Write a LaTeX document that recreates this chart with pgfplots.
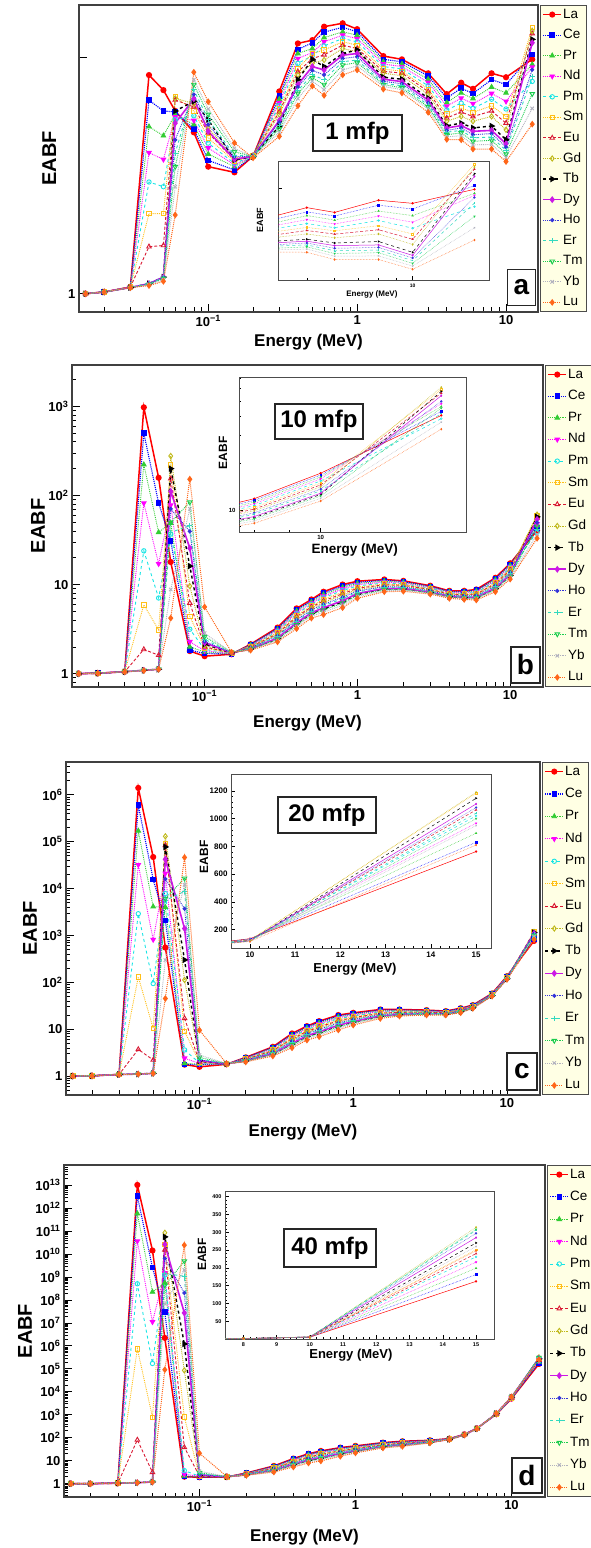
\documentclass[border=0pt]{standalone}
\usepackage{fontspec}
\setmainfont{Liberation Sans}
\usepackage{pgfplots}
\usepackage{pgfplotstable}
\pgfplotsset{compat=1.18}

\definecolor{cLa}{rgb}{1,0,0}
\definecolor{cCe}{rgb}{0,0,1}
\definecolor{cPr}{rgb}{0.2,0.8,0.2}
\definecolor{cNd}{rgb}{1,0,1}
\definecolor{cPm}{rgb}{0.1,0.9,0.9}
\definecolor{cSm}{rgb}{1,0.75,0.1}
\definecolor{cEu}{rgb}{0.85,0.1,0.2}
\definecolor{cGd}{rgb}{0.75,0.72,0.1}
\definecolor{cTb}{rgb}{0,0,0}
\definecolor{cDy}{rgb}{0.8,0.1,0.9}
\definecolor{cHo}{rgb}{0.2,0.2,0.85}
\definecolor{cEr}{rgb}{0.2,0.85,0.75}
\definecolor{cTm}{rgb}{0.1,0.8,0.3}
\definecolor{cYb}{rgb}{0.7,0.7,0.75}
\definecolor{cLu}{rgb}{1,0.4,0.1}
\definecolor{legfill}{RGB}{255,255,228}

\newcommand\fs[1]{\fontsize{#1}{#1}\selectfont}

% 1 mfp
\pgfplotstableread{
E La Ce Pr Nd Pm Sm Eu Gd Tb Dy Ho Er Tm Yb Lu
0.015 1.000 1.000 1.000 1.000 1.000 1.000 1.000 1.000 1.000 1.000 1.000 1.000 1.000 1.000 1.000
0.02 1.005 1.005 1.005 1.005 1.005 1.005 1.005 1.005 1.005 1.005 1.005 1.005 1.005 1.005 1.005
0.03 1.020 1.020 1.020 1.020 1.020 1.020 1.020 1.018 1.018 1.018 1.018 1.018 1.018 1.018 1.018
0.04 1.900 1.765 1.633 1.513 1.388 1.265 1.148 1.030 1.030 1.030 1.030 1.030 1.028 1.026 1.024
0.05 1.818 1.710 1.590 1.483 1.369 1.265 1.152 1.050 1.050 1.050 1.050 1.048 1.046 1.042 1.037
0.06 1.710 1.705 1.693 1.680 1.667 1.784 1.766 1.775 1.710 1.650 1.571 1.511 1.452 1.369 1.260
0.08 1.606 1.622 1.643 1.663 1.686 1.710 1.730 1.747 1.759 1.772 1.795 1.820 1.848 1.875 1.916
0.1 1.452 1.479 1.507 1.534 1.556 1.580 1.603 1.627 1.667 1.611 1.643 1.667 1.693 1.720 1.757
0.15 1.428 1.438 1.452 1.460 1.466 1.474 1.481 1.488 1.481 1.484 1.495 1.502 1.517 1.532 1.557
0.2 1.497 1.497 1.498 1.498 1.499 1.499 1.500 1.500 1.495 1.497 1.498 1.498 1.496 1.494 1.490
0.3 1.811 1.787 1.770 1.752 1.736 1.720 1.705 1.693 1.636 1.663 1.654 1.638 1.622 1.607 1.587
0.4 2.085 2.048 2.024 1.995 1.967 1.938 1.919 1.901 1.875 1.848 1.834 1.817 1.800 1.773 1.736
0.5 2.105 2.089 2.054 2.030 2.010 2.024 1.995 1.967 1.990 1.948 1.926 1.901 1.884 1.866 1.840
0.6 2.190 2.155 2.121 2.095 2.070 2.045 2.016 1.986 1.948 1.929 1.901 1.875 1.848 1.820 1.790
0.8 2.212 2.186 2.157 2.136 2.115 2.095 2.074 2.054 2.024 2.014 1.995 1.976 1.957 1.929 1.901
1 2.174 2.157 2.136 2.115 2.095 2.074 2.054 2.034 2.045 2.024 2.005 1.986 1.971 1.952 1.929
1.5 2.009 1.990 1.976 1.963 1.948 1.935 1.921 1.911 1.888 1.877 1.866 1.855 1.848 1.838 1.823
2 1.990 1.976 1.963 1.948 1.935 1.921 1.911 1.896 1.877 1.864 1.852 1.841 1.830 1.820 1.803
3 1.910 1.896 1.877 1.860 1.841 1.823 1.810 1.796 1.776 1.765 1.752 1.740 1.730 1.720 1.703
4 1.797 1.776 1.752 1.734 1.715 1.695 1.675 1.659 1.637 1.627 1.615 1.607 1.595 1.585 1.573
5 1.858 1.828 1.803 1.776 1.750 1.725 1.705 1.683 1.650 1.638 1.627 1.615 1.603 1.590 1.571
6 1.825 1.800 1.773 1.747 1.723 1.703 1.682 1.659 1.627 1.611 1.595 1.580 1.564 1.548 1.529
8 1.910 1.875 1.834 1.800 1.770 1.736 1.710 1.683 1.636 1.615 1.600 1.584 1.569 1.550 1.529
10 1.888 1.848 1.803 1.759 1.720 1.683 1.650 1.618 1.571 1.553 1.538 1.523 1.507 1.492 1.474
15 1.990 2.018 1.960 1.945 1.865 2.186 2.146 2.163 2.110 2.089 1.930 1.890 1.798 1.723 1.645
}\tabA

% 10 mfp
\pgfplotstableread{
E La Ce Pr Nd Pm Sm Eu Gd Tb Dy Ho Er Tm Yb Lu
0.015 1.00 1.00 1.00 1.00 1.00 1.00 1.00 1.00 1.00 1.00 1.00 1.00 1.00 1.00 1.00
0.02 1.01 1.01 1.01 1.01 1.01 1.01 1.01 1.01 1.01 1.01 1.01 1.01 1.01 1.01 1.01
0.03 1.05 1.05 1.05 1.05 1.05 1.05 1.05 1.05 1.05 1.05 1.05 1.05 1.05 1.05 1.05
0.04 975 499 222 82 23.9 5.9 1.87 1.09 1.09 1.09 1.09 1.09 1.09 1.09 1.08
0.05 158 82 38.5 17.1 7.06 3.1 1.61 1.12 1.12 1.12 1.12 1.12 1.12 1.12 1.12
0.06 17.9 31 49 78 36.8 219 154 277 200 111 70.6 38.5 50 8.8 4.2
0.08 1.79 1.84 2.0 2.28 3.15 4.38 6.2 9.6 16.1 25.6 39.5 45.8 84 70.6 152
0.1 1.57 1.68 1.75 1.81 1.87 1.94 2.0 2.07 2.15 2.22 2.3 2.43 2.6 2.84 5.6
0.15 1.65 1.66 1.67 1.68 1.69 1.70 1.70 1.71 1.71 1.72 1.72 1.72 1.73 1.73 1.74
0.2 2.14 2.115 2.09 2.065 2.04 2.02 1.99 1.97 1.89 1.90 1.95 1.93 1.88 1.855 1.83
0.3 3.29 3.21 3.13 3.05 2.96 2.88 2.81 2.74 2.47 2.51 2.66 2.60 2.42 2.35 2.27
0.4 5.4 5.22 5.05 4.87 4.70 4.52 4.37 4.21 3.64 3.73 4.04 3.90 3.53 3.38 3.2
0.5 6.8 6.59 6.38 6.18 5.97 5.76 5.58 5.40 4.72 4.82 5.19 5.03 4.59 4.41 4.2
0.6 8.3 8.0 7.71 7.41 7.12 6.82 6.56 6.30 5.34 5.49 6.0 5.78 5.16 4.90 4.6
0.8 10.0 9.64 9.28 8.92 8.56 8.2 7.89 7.57 6.4 6.58 7.21 6.94 6.18 5.86 5.5
1 10.9 10.59 10.28 9.96 9.65 9.34 9.07 8.79 7.78 7.94 8.48 8.25 7.59 7.31 7.0
1.5 11.4 11.15 10.9 10.66 10.41 10.16 9.94 9.73 8.92 9.04 9.48 9.29 8.77 8.55 8.3
2 11.0 10.79 10.58 10.38 10.17 9.96 9.78 9.6 8.92 9.02 9.39 9.23 8.79 8.61 8.4
3 9.7 9.55 9.4 9.24 9.09 8.94 8.81 8.67 8.18 8.26 8.52 8.41 8.09 7.95 7.8
4 8.5 8.38 8.26 8.14 8.02 7.9 7.8 7.69 7.3 7.36 7.57 7.48 7.23 7.12 7.0
5 8.5 8.36 8.23 8.09 7.96 7.82 7.7 7.58 7.14 7.21 7.45 7.34 7.06 6.94 6.8
6 8.8 8.63 8.46 8.3 8.13 7.96 7.81 7.67 7.12 7.2 7.5 7.37 7.02 6.87 6.7
8 11.9 11.61 11.32 11.04 10.75 10.46 10.21 9.96 9.02 9.16 9.67 9.45 8.84 8.59 8.3
10 17.3 16.84 16.37 15.91 15.44 14.98 14.57 14.17 12.66 12.89 13.7 13.36 12.37 11.96 11.5
15 40.4 42.9 46 48 38.5 59 56 61 57.5 54 49.6 41.5 45 36.6 33
}\tabB

% 20 mfp
\pgfplotstableread{
E La Ce Pr Nd Pm Sm Eu Gd Tb Dy Ho Er Tm Yb Lu
0.015 1.00 1.00 1.00 1.00 1.00 1.00 1.00 1.00 1.00 1.00 1.00 1.00 1.00 1.00 1.00
0.02 1.01 1.01 1.01 1.01 1.01 1.01 1.01 1.01 1.01 1.01 1.01 1.01 1.01 1.01 1.01
0.03 1.08 1.08 1.08 1.08 1.08 1.08 1.08 1.08 1.08 1.08 1.08 1.08 1.08 1.08 1.08
0.04 1.4e6 6.0e5 1.7e5 3.2e4 2900 130 3.7 1.1 1.1 1.1 1.1 1.1 1.1 1.1 1.1
0.05 4.7e4 1.55e4 4100 813 94 10.4 2.2 1.14 1.14 1.14 1.14 1.14 1.14 1.14 1.14
0.06 550 2100 4000 2.1e4 7800 9.1e4 8.3e4 1.3e5 7.7e4 4.2e4 1.6e4 5600 6100 296 45
0.08 1.75 1.75 1.86 2.4 3.6 9 17 112 300 1400 3700 8700 1.65e4 1.2e4 4.6e4
0.1 1.57 1.75 1.8 1.85 1.9 1.95 2.0 2.05 2.1 2.15 2.2 2.3 2.5 2.8 9.5
0.15 1.78 1.79 1.79 1.80 1.80 1.81 1.81 1.82 1.82 1.83 1.83 1.84 1.84 1.85 1.85
0.2 2.5 2.46 2.42 2.38 2.34 2.30 2.27 2.23 2.10 2.12 2.19 2.16 2.08 2.04 2.0
0.3 4.2 4.08 3.96 3.83 3.71 3.59 3.48 3.37 2.98 3.04 3.25 3.16 2.90 2.79 2.67
0.4 8.1 7.77 7.44 7.12 6.79 6.46 6.17 5.89 4.82 4.98 5.56 5.31 4.62 4.33 4.0
0.5 11.6 11.14 10.68 10.22 9.76 9.3 8.90 8.5 7.0 7.23 8.04 7.69 6.71 6.31 5.85
0.6 14.8 14.17 13.54 12.9 12.27 11.64 11.09 10.53 8.48 8.8 9.9 9.43 8.09 7.53 6.9
0.8 20 19.17 18.34 17.5 16.67 15.84 15.11 14.38 11.68 12.1 13.55 12.93 11.16 10.43 9.6
1 22.3 21.49 20.68 19.88 19.07 18.26 17.55 16.85 14.22 14.62 16.04 15.43 13.72 13.01 12.2
1.5 26.3 25.55 24.8 24.04 23.29 22.54 21.88 21.22 18.78 19.16 20.47 19.91 18.31 17.65 16.9
2 26.3 25.72 25.13 24.55 23.96 23.38 22.87 22.36 20.46 20.75 21.77 21.34 20.1 19.58 19.0
3 25.5 25.06 24.62 24.18 23.74 23.3 22.92 22.53 21.1 21.32 22.09 21.76 20.83 20.44 20.0
4 24.3 23.96 23.61 23.27 22.92 22.58 22.28 21.98 20.86 21.03 21.63 21.38 20.65 20.34 20.0
5 28 27.55 27.1 26.66 26.21 25.76 25.37 24.98 23.52 23.74 24.53 24.19 23.24 22.85 22.4
6 32.6 32.21 31.82 31.42 31.03 30.64 30.3 29.95 28.68 28.88 29.56 29.27 28.44 28.09 27.7
8 57.6 57.04 56.48 55.92 55.36 54.8 54.31 53.82 52.0 52.28 53.26 52.84 51.65 51.16 50.6
10 135 133.4 131.8 130.2 128.6 127 125.6 124.2 119 119.8 122.6 121.4 118 116.6 115
15 763 830 895 967 1020 1183 1063 1190 1147 1106 1080 1040 1000 950 810
}\tabC

% 40 mfp
\pgfplotstableread{
E La Ce Pr Nd Pm Sm Eu Gd Tb Dy Ho Er Tm Yb Lu
0.015 1.00 1.00 1.00 1.00 1.00 1.00 1.00 1.00 1.00 1.00 1.00 1.00 1.00 1.00 1.00
0.02 1.00 1.00 1.00 1.00 1.00 1.00 1.00 1.00 1.00 1.00 1.00 1.00 1.00 1.00 1.00
0.03 1.05 1.05 1.05 1.05 1.05 1.05 1.05 1.05 1.05 1.05 1.05 1.05 1.05 1.05 1.05
0.04 1.0e13 3.3e12 5.7e11 3.6e10 5.0e8 7.4e5 80 1.1 1.1 1.1 1.1 1.1 1.1 1.1 1.1
0.05 1.4e10 2.5e9 2.2e8 1.1e7 1.7e5 780 3.1 1.18 1.18 1.18 1.18 1.18 1.18 1.18 1.18
0.06 2.2e6 3.0e7 5.5e8 1.5e9 1.2e9 2.5e10 1.5e10 8.3e10 5.5e10 2.6e10 6.3e9 1.4e9 4.3e8 6.8e7 9.1e4
0.08 2.0 2.0 2.2 2.6 3.7 800 38 8.5e4 1.2e6 2.7e7 2.0e8 1.07e9 4.8e9 2.0e9 2.4e10
0.1 1.9 1.95 2.0 2.05 2.1 2.15 2.2 2.25 2.3 2.4 2.5 2.7 3.0 3.5 21
0.15 1.95 1.96 1.96 1.97 1.97 1.98 1.98 1.99 1.99 2.0 2.0 2.01 2.01 2.02 2.02
0.2 2.9 2.85 2.80 2.76 2.71 2.66 2.62 2.58 2.42 2.44 2.53 2.49 2.39 2.35 2.3
0.3 5.9 5.68 5.47 5.25 5.04 4.82 4.63 4.44 3.74 3.85 4.23 4.06 3.61 3.42 3.2
0.4 12.3 11.74 11.18 10.62 10.06 9.5 9.01 8.52 6.7 6.98 7.96 7.54 6.35 5.86 5.3
0.5 20 19.03 18.06 17.1 16.13 15.16 14.31 13.47 10.32 10.8 12.5 11.77 9.72 8.87 7.9
0.6 26.5 25.16 23.81 22.47 21.12 19.78 18.6 17.43 13.06 13.73 16.08 15.08 12.22 11.04 9.7
0.8 37 35.28 33.56 31.84 30.12 28.4 26.9 25.39 19.8 20.66 23.67 22.38 18.73 17.22 15.5
1 44 42.22 40.43 38.65 36.86 35.08 33.52 31.96 26.16 27.05 30.17 28.84 25.05 23.48 21.7
1.5 61 58.98 56.97 54.95 52.94 50.92 49.16 47.39 40.84 41.85 45.38 43.86 39.58 37.82 35.8
2 70 67.76 65.52 63.28 61.04 58.8 56.84 54.88 47.6 48.72 52.64 50.96 46.2 44.24 42
3 77 75.56 74.12 72.68 71.24 69.8 68.54 67.28 62.6 63.32 65.84 64.76 61.7 60.44 59
4 91 90.36 89.72 89.08 88.44 87.8 87.24 86.68 84.6 84.92 86.04 85.56 84.2 83.64 83
5 140 139.4 138.7 138.1 137.4 136.8 136.2 135.7 133.6 133.9 135 134.6 133.2 132.6 132
6 255 254.2 253.4 252.6 251.8 251 250.3 249.6 247 247.4 248.8 248.2 246.5 245.8 245
8 1050 1058 1066 1074 1082 1090 1097 1104 1130 1126 1112 1118 1135 1142 1150
10 5000 5080 5160 5240 5320 5400 5470 5540 5800 5760 5620 5680 5850 5920 6000
15 1.62e5 1.81e5 1.99e5 2.16e5 2.31e5 2.51e5 2.40e5 3.14e5 2.70e5 2.85e5 2.97e5 3.05e5 3.08e5 2.60e5 2.48e5
}\tabD

\def\mB{0.8,0.9,2,3,4,5,6,7,8,9,20,30,40,50,60,70,80,90,200,300,400,500,600,700,800,900,2000}
\xdef\mC{0.5,0.6,0.7,0.8,0.9}
\foreach \ee in {0,...,6}{\foreach \mm in {2,...,9}{\xdef\mC{\mC,\mm e\ee}}}
\xdef\mD{0.3,0.4,0.5,0.6,0.7,0.8,0.9}
\foreach \ee in {0,...,13}{\foreach \mm in {2,...,9}{\xdef\mD{\mD,\mm e\ee}}}

\tikzset{lab/.style={draw=gray!30!black, line width=1.3pt, fill=white, inner sep=0pt,
    font=\bfseries\fs{24}}}

\pgfplotsset{
  sLa/.style={color=cLa, solid, line width=1.5pt, mark=*, mark size=2.3pt, mark options={solid}},
  sCe/.style={color=cCe, densely dotted, line width=1.1pt, mark=square*, mark size=2.2pt, mark options={solid}},
  sPr/.style={color=cPr, densely dotted, line width=0.9pt, mark=triangle*, mark size=2.6pt, mark options={solid}},
  sNd/.style={color=cNd, densely dotted, line width=0.9pt, mark=triangle*, mark size=2.6pt, mark options={solid,rotate=180}},
  sPm/.style={color=cPm, dashed, line width=0.9pt, mark=o, mark size=2.2pt, mark options={solid}},
  sSm/.style={color=cSm, densely dotted, line width=0.9pt, mark=square, mark size=2.2pt, mark options={solid}},
  sEu/.style={color=cEu, densely dashed, line width=0.9pt, mark=triangle, mark size=2.6pt, mark options={solid}},
  sGd/.style={color=cGd, densely dotted, line width=0.9pt, mark=diamond, mark size=2.6pt, mark options={solid}},
  sTb/.style={color=cTb, dashed, line width=1.4pt, mark=triangle*, mark size=2.4pt, mark options={solid,rotate=-90}},
  sDy/.style={color=cDy, solid, line width=1.6pt, mark=diamond*, mark size=2.2pt, mark options={solid}},
  sHo/.style={color=cHo, densely dotted, line width=0.9pt, mark=*, mark size=1.6pt, mark options={solid}},
  sEr/.style={color=cEr, dashed, line width=0.9pt, mark=+, mark size=2.6pt, mark options={solid}},
  sTm/.style={color=cTm, densely dotted, line width=0.9pt, mark=triangle, mark size=2.6pt, mark options={solid,rotate=180}},
  sYb/.style={color=cYb, densely dotted, line width=0.9pt, mark=x, mark size=2.4pt, mark options={solid}},
  sLu/.style={color=cLu, densely dotted, line width=1.0pt, mark=diamond*, mark size=2.6pt, mark options={solid}},
  thinplot/.style={line width=0.5pt, mark size=0.9pt},
  mainax/.style={
    scale only axis, anchor=south west,
    xmin=0.01355, xmax=16.4,
    axis line style={draw=gray!50!black, line width=1.3pt},
    tick align=inside, tick pos=left,
    major tick length=8pt, minor tick length=4.5pt,
    tick style={black, line width=0.6pt},
    xtick={0.1,1,10}, xticklabels={10\textsuperscript{−1},1,10},
    minor xtick={0.02,0.03,0.04,0.05,0.06,0.07,0.08,0.09,0.2,0.3,0.4,0.5,0.6,0.7,0.8,0.9,2,3,4,5,6,7,8,9},
    ticklabel style={font=\bfseries\fs{13}},
    xlabel={Energy (MeV)}, ylabel={EABF},
    xlabel style={font=\bfseries\fs{17}, anchor=center},
    ylabel style={font=\bfseries\fs{20}, anchor=center},
    legend style={at={(1.004,1)}, anchor=north west, fill=legfill,
      draw=gray!60!black, line width=1.2pt, font=\fs{13.5},
      inner xsep=2pt, inner ysep=3pt,
      nodes={inner ysep=0pt, inner xsep=1pt, text height=9.5pt, text depth=2.5pt},
      cells={anchor=west}},
    legend image code/.code={\draw[mark repeat=2,mark phase=2,##1] plot coordinates {(0pt,0pt) (9pt,0pt) (18pt,0pt)};},
  },
  insetax/.style={
    scale only axis, anchor=south west,
    axis background/.style={fill=white},
    axis line style={draw=gray!60!black, line width=0.8pt},
    tick align=inside, tick pos=left,
    major tick length=4pt, minor tick length=2pt,
    tick style={black, line width=0.4pt},
    xlabel={Energy (MeV)}, ylabel={EABF},
  },
}

\begin{document}
\begin{tikzpicture}
\path[use as bounding box] (0,0) rectangle (590pt,1548pt);

% ---------- a: 1 mfp
\begin{axis}[mainax, xmode=log, ymode=log, at={(79pt,1236pt)}, width=459pt, height=307pt,
  ymin=0.9477, ymax=2.334, ytick={1,2}, yticklabels={1,{}},
  legend style={row sep=8.56pt},
  xlabel style={at={(axis description cs:0.5,-0.098)}},
  ylabel style={at={(axis description cs:-0.065,0.5)}}]
\pgfplotsinvokeforeach{La,Ce,Pr,Nd,Pm,Sm,Eu,Gd,Tb,Dy,Ho,Er,Tm,Yb,Lu}{
  \addplot[s#1] table[x=E,y=#1]{\tabA}; \addlegendentry{#1}}
\end{axis}
\begin{axis}[insetax, xmode=log, ymode=log, at={(278pt,1268pt)}, width=211pt, height=119pt,
  xmin=4.14, xmax=16.5, ymin=1.416, ymax=2.213,
  xtick={10}, xticklabels={10}, minor xtick={5,6,7,8,9},
  ytick={2}, yticklabels={}, ticklabel style={font=\bfseries\fs{5}},
  xlabel style={font=\bfseries\fs{8}, at={(axis description cs:0.445,-0.118)}, anchor=center},
  ylabel style={font=\bfseries\fs{9}, at={(axis description cs:-0.085,0.504)}, anchor=center}]
\pgfplotsinvokeforeach{La,Ce,Pr,Nd,Pm,Sm,Eu,Gd,Tb,Dy,Ho,Er,Tm,Yb,Lu}{
  \addplot[s#1,thinplot] table[x=E,y=#1]{\tabA};}
\end{axis}
\node[lab, minimum width=89pt, minimum height=36pt] at (357.5pt,1415pt) {1 mfp};
\node[lab, minimum width=28pt, minimum height=36pt, font=\bfseries\fs{28}] at (521.5pt,1260.5pt) {a};

% ---------- b: 10 mfp
\begin{axis}[mainax, xmode=log, ymode=log, at={(72pt,861pt)}, width=471pt, height=322pt,
  ymin=0.708, ymax=2912, ytick={1,10,100,1000},
  yticklabels={1,10,10\textsuperscript{2},10\textsuperscript{3}},
  minor ytick/.expanded=\mB,
  legend style={row sep=9.63pt},
  xlabel style={at={(axis description cs:0.5,-0.112)}},
  ylabel style={at={(axis description cs:-0.072,0.5)}}]
\pgfplotsinvokeforeach{La,Ce,Pr,Nd,Pm,Sm,Eu,Gd,Tb,Dy,Ho,Er,Tm,Yb,Lu}{
  \addplot[s#1] table[x=E,y=#1]{\tabB}; \addlegendentry{#1}}
\end{axis}
\begin{axis}[insetax, xmode=log, ymode=log, at={(239pt,1016pt)}, width=227pt, height=155pt,
  xmin=7.6, xmax=16.3, ymin=7.3, ymax=71,
  xtick={10}, xticklabels={10}, minor xtick={8,9},
  ytick={10}, yticklabels={10}, minor ytick={8,9,20,30,40,50,60,70},
  ticklabel style={font=\bfseries\fs{6}},
  xlabel style={font=\bfseries\fs{13.5}, at={(axis description cs:0.51,-0.116)}, anchor=center},
  ylabel style={font=\bfseries\fs{12}, at={(axis description cs:-0.07,0.51)}, anchor=center}]
\pgfplotsinvokeforeach{La,Ce,Pr,Nd,Pm,Sm,Eu,Gd,Tb,Dy,Ho,Er,Tm,Yb,Lu}{
  \addplot[s#1,thinplot] table[x=E,y=#1]{\tabB};}
\end{axis}
\node[lab, minimum width=88pt, minimum height=35pt] at (319pt,1126.5pt) {10 mfp};
\node[lab, minimum width=29pt, minimum height=36pt, font=\bfseries\fs{28}] at (525.5pt,883pt) {b};

% ---------- c: 20 mfp
\begin{axis}[mainax, xmode=log, ymode=log, at={(66pt,453pt)}, width=474pt, height=333pt,
  ymin=0.394, ymax=5.0e6, ytick={1,10,100,1000,10000,100000,1000000},
  yticklabels={1,10,10\textsuperscript{2},10\textsuperscript{3},10\textsuperscript{4},10\textsuperscript{5},10\textsuperscript{6}},
  minor ytick/.expanded=\mC,
  legend style={row sep=10.42pt},
  xlabel style={at={(axis description cs:0.5,-0.111)}},
  ylabel style={at={(axis description cs:-0.076,0.5)}}]
\pgfplotsinvokeforeach{La,Ce,Pr,Nd,Pm,Sm,Eu,Gd,Tb,Dy,Ho,Er,Tm,Yb,Lu}{
  \addplot[s#1] table[x=E,y=#1]{\tabC}; \addlegendentry{#1}}
\end{axis}
\begin{axis}[insetax, at={(231pt,600pt)}, width=260pt, height=174pt,
  xmin=9.58, xmax=15.33, ymin=68, ymax=1322, restrict x to domain=7:16,
  xtick={10,11,12,13,14,15}, xticklabels={10,11,12,13,14,15}, minor x tick num=4,
  ytick={200,400,600,800,1000,1200}, yticklabels={200,400,600,800,1000,1200}, minor y tick num=4,
  ticklabel style={font=\bfseries\fs{8}},
  xlabel style={font=\bfseries\fs{13}, at={(axis description cs:0.477,-0.12)}, anchor=center},
  ylabel style={font=\bfseries\fs{12}, at={(axis description cs:-0.104,0.523)}, anchor=center}]
\pgfplotsinvokeforeach{La,Ce,Pr,Nd,Pm,Sm,Eu,Gd,Tb,Dy,Ho,Er,Tm,Yb,Lu}{
  \addplot[s#1,thinplot] table[x=E,y=#1]{\tabC};}
\end{axis}
\node[lab, minimum width=98pt, minimum height=36pt] at (327pt,733pt) {20 mfp};
\node[lab, minimum width=30pt, minimum height=37pt, font=\bfseries\fs{28}] at (522pt,476.5pt) {c};

% ---------- d: 40 mfp
\begin{axis}[mainax, xmode=log, ymode=log, at={(64pt,51pt)}, width=481pt, height=332pt,
  ymin=0.262, ymax=7.4e13,
  ytick={1,1e1,1e2,1e3,1e4,1e5,1e6,1e7,1e8,1e9,1e10,1e11,1e12,1e13},
  yticklabels={1,10,10\textsuperscript{2},10\textsuperscript{3},10\textsuperscript{4},10\textsuperscript{5},10\textsuperscript{6},10\textsuperscript{7},10\textsuperscript{8},10\textsuperscript{9},10\textsuperscript{10},10\textsuperscript{11},10\textsuperscript{12},10\textsuperscript{13}},
  minor ytick/.expanded=\mD,
  legend style={row sep=10.34pt},
  xlabel style={at={(axis description cs:0.5,-0.12)}},
  ylabel style={at={(axis description cs:-0.081,0.5)}}]
\pgfplotsinvokeforeach{La,Ce,Pr,Nd,Pm,Sm,Eu,Gd,Tb,Dy,Ho,Er,Tm,Yb,Lu}{
  \addplot[s#1] table[x=E,y=#1]{\tabD}; \addlegendentry{#1}}
\end{axis}
\begin{axis}[insetax, at={(225pt,209pt)}, width=269pt, height=148pt,
  xmin=7.45, xmax=15.54, ymin=0, ymax=416000, restrict x to domain=5.5:16,
  xtick={8,9,10,11,12,13,14,15}, xticklabels={8,9,10,11,12,13,14,15}, minor x tick num=4,
  ytick={50000,100000,150000,200000,250000,300000,350000,400000},
  yticklabels={50,100,150,200,250,300,350,400}, minor y tick num=4,
  scaled y ticks=false,
  ticklabel style={font=\bfseries\fs{5.5}},
  xlabel style={font=\bfseries\fs{13}, at={(axis description cs:0.468,-0.108)}, anchor=center},
  ylabel style={font=\bfseries\fs{12}, at={(axis description cs:-0.0855,0.57)}, anchor=center}]
\pgfplotsinvokeforeach{La,Ce,Pr,Nd,Pm,Sm,Eu,Gd,Tb,Dy,Ho,Er,Tm,Yb,Lu}{
  \addplot[s#1,thinplot] table[x=E,y=#1]{\tabD};}
\node[font=\fs{5}, anchor=south west, inner sep=0.5pt] at (rel axis cs:0,1) {×10\textsuperscript{3}};
\end{axis}
\node[lab, minimum width=92pt, minimum height=38pt] at (330pt,300pt) {40 mfp};
\node[lab, minimum width=30pt, minimum height=35pt, font=\bfseries\fs{28}] at (527pt,72.5pt) {d};
\end{tikzpicture}
\end{document}
